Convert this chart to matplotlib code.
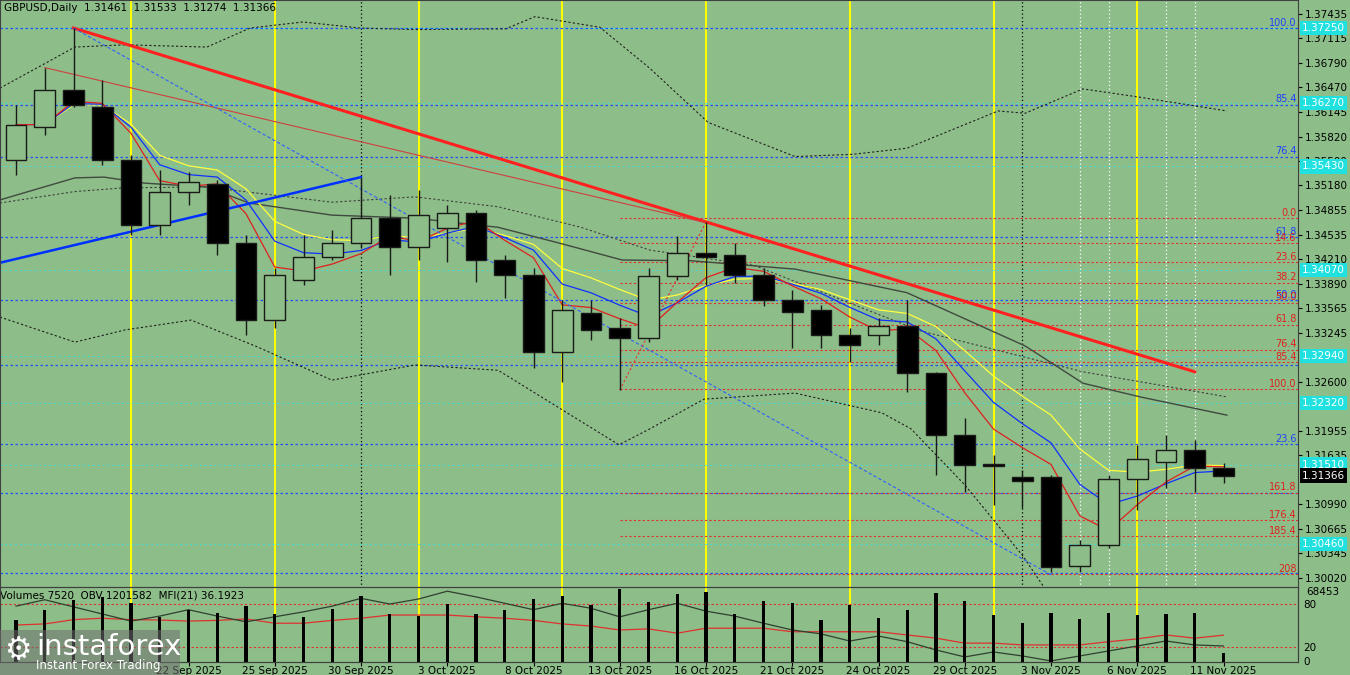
import matplotlib
matplotlib.use("Agg")
import matplotlib.pyplot as plt
import numpy as np
import pandas as pd

dates = ["12 Sep","15 Sep","16 Sep","17 Sep","18 Sep","19 Sep","22 Sep","23 Sep","24 Sep","25 Sep","26 Sep","29 Sep","30 Sep",
         "1 Oct","2 Oct","3 Oct","6 Oct","7 Oct","8 Oct","9 Oct","10 Oct","13 Oct","14 Oct","15 Oct","16 Oct","17 Oct","20 Oct",
         "21 Oct","22 Oct","23 Oct","24 Oct","27 Oct","28 Oct","29 Oct","30 Oct","31 Oct","3 Nov","4 Nov","5 Nov","6 Nov","7 Nov","10 Nov","11 Nov"]
opens = [1.3552,1.3595,1.3644,1.3621,1.3552,1.3466,1.3510,1.3520,1.3442,1.3341,1.3394,1.3424,1.3442,1.3475,1.3437,1.3462,
         1.3482,1.3420,1.3400,1.3299,1.3350,1.3331,1.3317,1.3399,1.3429,1.3427,1.3400,1.3367,1.3354,1.3321,1.3321,1.3333,
         1.3272,1.3190,1.3152,1.3135,1.3135,1.3018,1.3045,1.3132,1.3154,1.3170,1.31461]
closes = [1.3598,1.3644,1.3624,1.3552,1.3466,1.3510,1.3523,1.3442,1.3341,1.3400,1.3424,1.3442,1.3475,1.3437,1.3479,1.3482,
          1.3420,1.3400,1.3299,1.3354,1.3328,1.3317,1.3399,1.3429,1.3424,1.3400,1.3367,1.3352,1.3321,1.3308,1.3333,1.3272,
          1.3190,1.3150,1.3149,1.3129,1.3016,1.3045,1.3132,1.3158,1.3170,1.3147,1.31366]
highs = [1.3624,1.3673,1.3725,1.3657,1.3558,1.3538,1.3536,1.3525,1.3453,1.3410,1.3453,1.3460,1.3528,1.3506,1.3512,1.3492,
         1.3486,1.3427,1.3410,1.3367,1.3367,1.3344,1.3410,1.3452,1.3470,1.3442,1.3410,1.3381,1.3361,1.3331,1.3344,1.3367,
         1.3273,1.3212,1.3164,1.3144,1.3137,1.3052,1.3137,1.3177,1.3190,1.3183,1.31533]
lows = [1.3532,1.3584,1.3621,1.3545,1.3453,1.3453,1.3492,1.3427,1.3321,1.3331,1.3387,1.3420,1.3436,1.3400,1.3420,1.3417,
        1.3391,1.3370,1.3278,1.3260,1.3315,1.3249,1.3312,1.3394,1.3387,1.3390,1.3360,1.3304,1.3304,1.3286,1.3308,1.3247,
        1.3137,1.3115,1.3098,1.3094,1.3010,1.3010,1.3041,1.3091,1.3120,1.3115,1.31274]
volumes = [39400,48800,58200,61000,55400,42300,48800,46000,52600,45100,42300,49700,61900,45100,43200,54400,45100,48800,
           59100,61900,53500,68500,56300,63800,65600,45100,57300,55400,39400,53500,41300,48800,64700,57300,44100,36600,
           45600,40300,45600,43700,44600,45600,8400]
mfi = [50.5,52,58,60,58,57.5,56,57,59,53,53,57,60,64.5,64.5,64.5,62,60,57,52,49,43.5,45,39,46,46,46,41,41,41,41,36.5,
       32,25,25,22.5,22.5,22.5,27,31,36.5,32,36.2]
obv_scaled = [77,86,76,66,56,63,72,63,55,62,69,77,88,80,87,98,90,81,72,81,74,62,72,81,70,63,53,43.5,38,28,35,27,15.4,
              5.6,12.6,7,0,7,14,21,28,22.5,21]

# envelope / slow average lines (bar index, price)
bb_up_x = [-0.56,2.05,3.79,6.64,8.14,9.98,11.97,13.88,17.04,18.05,20.31,22.05,24.07,27.10,29.11,30.99,34.16,35.10,37.11,39.10,42.12]
bb_up_y = [1.3646,1.3700,1.3703,1.3700,1.3725,1.3733,1.3725,1.3723,1.3724,1.3740,1.3726,1.3672,1.3601,1.3556,1.3559,1.3567,1.3616,1.3613,1.3645,1.3634,1.3616]
bb_lo_x = [-0.56,2.05,3.79,6.09,8.38,10.99,13.88,16.77,20.97,22.05,23.93,27.10,30.12,31.13,33.01,35.02,35.82]
bb_lo_y = [1.3345,1.3312,1.3328,1.3341,1.3306,1.3262,1.3282,1.3275,1.3177,1.3198,1.3237,1.3245,1.3219,1.3198,1.3124,1.3031,1.2986]
mid_x = [-0.56,2.05,3.79,6.64,7.51,10.99,13.88,16.77,19.65,22.05,25.67,31.44,37.11,42.12]
mid_y = [1.3495,1.3510,1.3515,1.3516,1.3512,1.3496,1.3503,1.3490,1.3463,1.3433,1.3413,1.3327,1.3273,1.3240]
slow_x = [-0.56,2.05,3.06,4.49,6.64,8.10,10.99,13.88,16.77,18.92,21.08,23.48,27.10,30.99,35.10,37.11,39.10,42.12]
slow_y = [1.3499,1.3528,1.3529,1.3521,1.3516,1.3495,1.3479,1.3475,1.3463,1.3442,1.3420,1.3419,1.3408,1.3377,1.3307,1.3258,1.3240,1.3216]

yticks = [1.37435,1.37115,1.36790,1.36470,1.36145,1.35820,1.35500,1.35180,1.34855,1.34535,1.34210,1.33890,1.33565,
          1.33245,1.32600,1.31955,1.31635,1.30990,1.30665,1.30345,1.30020]
tick_dates = ["22 Sep 2025","25 Sep 2025","30 Sep 2025","3 Oct 2025","8 Oct 2025","13 Oct 2025","16 Oct 2025",
              "21 Oct 2025","24 Oct 2025","29 Oct 2025","3 Nov 2025","6 Nov 2025","11 Nov 2025"]
tick_idx = [6,9,12,15,18,21,24,27,30,33,36,39,42]

fib_blue = [1.3725,1.3624,1.3556,1.3450,1.3367,1.3282,1.3178,1.3114,1.3009]
fib_blue_lbl = ["100.0","85.4","76.4","61.8","50.0","","23.6","",""]
fib_red = [1.3475,1.3442,1.3417,1.3390,1.3364,1.3335,1.3302,1.3286,1.3250,1.3114,1.3078,1.3057,1.3007]
fib_red_lbl = ["0.0","14.6","23.6","38.2","50.0","61.8","76.4","85.4","100.0","161.8","176.4","185.4","208"]
cyan_levels = [1.3725,1.3627,1.3543,1.3407,1.3294,1.3232,1.3151,1.3046]
yellow_v = [4,9,14,19,24,29,34,39]
black_v = [12,35]
white_v = [37,38,40,41]

BG = "#8dbd88"
fig = plt.figure(figsize=(13.5,6.75), dpi=100, facecolor=BG)
ax = fig.add_axes([0, 1-588/675, 1298/1350, 588/675], facecolor=BG)
xl = (-16/28.75, (1298-16)/28.75)
ax.set_xlim(*xl)
ax.set_ylim(1.37619-588*0.0001315, 1.37619)
x = np.arange(len(opens))
c = pd.Series(closes)

for v in yellow_v:
    ax.axvline(v, color="#ffff00", lw=1.5, zorder=1)
for v in black_v:
    ax.axvline(v, color="black", lw=0.9, ls=(0,(1,2)), zorder=1)
for v in white_v:
    ax.axvline(v, color="white", lw=0.9, ls=(0,(1,2)), zorder=1)

for lv in cyan_levels:
    ax.axhline(lv, color="#40e0e0", lw=0.7, ls=(0,(2,3)), zorder=1.5)
for lv, lb in zip(fib_blue, fib_blue_lbl):
    ax.axhline(lv, color="#2050ff", lw=0.9, ls=(0,(2,2)), zorder=2)
    if lb:
        ax.text(xl[1]-0.05, lv+0.00005, lb, color="#2040ff", fontsize=7, ha="right", va="bottom")
for lv, lb in zip(fib_red, fib_red_lbl):
    ax.plot([21, xl[1]], [lv, lv], color="#e03030", lw=0.8, ls=(0,(2,2)), zorder=2)
    ax.text(xl[1]-0.05, lv+0.00005, lb, color="#e02020", fontsize=7, ha="right", va="bottom")

# indicators
ax.plot(bb_up_x, bb_up_y, color="#202020", lw=0.8, ls=(0,(2,2)))
ax.plot(bb_lo_x, bb_lo_y, color="#202020", lw=0.8, ls=(0,(2,2)))
ax.plot(mid_x, mid_y, color="#404040", lw=0.8, ls=(0,(2,2)))
ax.plot(slow_x, slow_y, color="#404a40", lw=1.0)
ax.plot(x, c.ewm(span=8).mean().shift(1).bfill(), color="#ffff40", lw=0.9)
ax.plot(x, c.ewm(span=5).mean().shift(1).bfill(), color="#1030ff", lw=0.9)
ax.plot(x, c.ewm(span=3).mean().shift(1).bfill(), color="#e02020", lw=0.9)

# trendlines
ax.plot([2, 41], [1.3725, 1.3273], color="#ff2020", lw=2.2)
ax.plot([1, 24], [1.3673, 1.3469], color="#d04040", lw=0.8)
ax.plot([-0.6, 12], [1.3416, 1.3529], color="#0030ff", lw=1.8)
ax.plot([2, 36], [1.3725, 1.3006], color="#3060ff", lw=0.8, ls=(0,(3,2)))
ax.plot([21, 24], [1.3249, 1.3470], color="#e03030", lw=0.8, ls=(0,(2,2)))

for i in range(len(opens)):
    o, cl, h, l = opens[i], closes[i], highs[i], lows[i]
    ax.vlines(i, l, h, color="#1a1a1a", lw=1, zorder=4)
    lo, hi = min(o, cl), max(o, cl)
    fc = BG if cl > o else "black"
    ax.bar(i, max(hi-lo, 0.00004), bottom=lo, width=0.72, color=fc, edgecolor="#1a1a1a", lw=1.0, zorder=5)

ax.yaxis.tick_right()
ax.set_yticks(yticks)
ax.set_yticklabels([f"{t:.5f}" for t in yticks], fontsize=7.5)
ax.tick_params(axis="y", length=3, pad=2, colors="black")
ax.set_xticks([])
for s in ax.spines.values():
    s.set_color("#404040")
for lv in cyan_levels:
    ax.text(1.003, lv, f"{lv:.5f}", transform=ax.get_yaxis_transform(), fontsize=7.5, color="white",
            va="center", ha="left", bbox=dict(boxstyle="square,pad=0.2", fc="#20e0e0", ec="none"), zorder=10)
ax.text(1.003, closes[-1], f"{closes[-1]:.5f}", transform=ax.get_yaxis_transform(), fontsize=7.5, color="white",
        va="center", ha="left", bbox=dict(boxstyle="square,pad=0.2", fc="black", ec="none"), zorder=11)
ax.text(0.003, 0.995, "GBPUSD,Daily  1.31461  1.31533  1.31274  1.31366", transform=ax.transAxes,
        fontsize=7.5, va="top", ha="left")

# lower panel
bx = fig.add_axes([0, 13/675, 1298/1350, 75/675], facecolor=BG)
bx.set_xlim(*xl)
bx.set_ylim(-1.5, 103.9)
bv = bx.twinx()
bv.set_ylim(0, 70000)
bv.bar(x, volumes, width=0.12, color="black", zorder=3)
bv.set_yticks([])
for v in yellow_v:
    bx.axvline(v, color="#ffff00", lw=1.5, zorder=0)
bx.axhline(80, color="#e03030", lw=0.8, ls=(0,(2,2)))
bx.axhline(20, color="#e03030", lw=0.8, ls=(0,(2,2)))
bx.plot(x, mfi, color="#e03030", lw=0.9)
bx.plot(x, obv_scaled, color="#304030", lw=0.9)
bx.yaxis.tick_right()
bx.set_yticks([0,20,80])
bx.set_yticklabels(["0","20","80"], fontsize=7.5)
bx.tick_params(axis="y", length=0, pad=4)
bx.text(1.006, 0.93, "68453", transform=bx.transAxes, fontsize=7.5, va="center")
bx.set_xticks(tick_idx)
bx.set_xticklabels(tick_dates, fontsize=7.5)
bx.tick_params(axis="x", length=3, pad=0)
for s in list(bx.spines.values()) + list(bv.spines.values()):
    s.set_color("#404040")
bx.text(0.0, 0.95, "Volumes 7520  OBV 1201582  MFI(21) 36.1923", transform=bx.transAxes, fontsize=7.5, va="top")

fig.patches.append(plt.Rectangle((0, 0), 180/1350, 45/675, transform=fig.transFigure, fc="#707070", alpha=0.55, ec="none", zorder=20))
fig.text(36/1350, 28/675, "instaforex", fontsize=21, color="white", va="center", ha="left", zorder=21)
fig.text(36/1350, 9/675, "Instant Forex Trading", fontsize=8.5, color="white", va="center", ha="left", zorder=21)
fig.text(18/1350, 24/675, "\u2699", fontsize=22, color="white", va="center", ha="center", zorder=21)

fig.savefig("out.png", dpi=100, facecolor=BG)
